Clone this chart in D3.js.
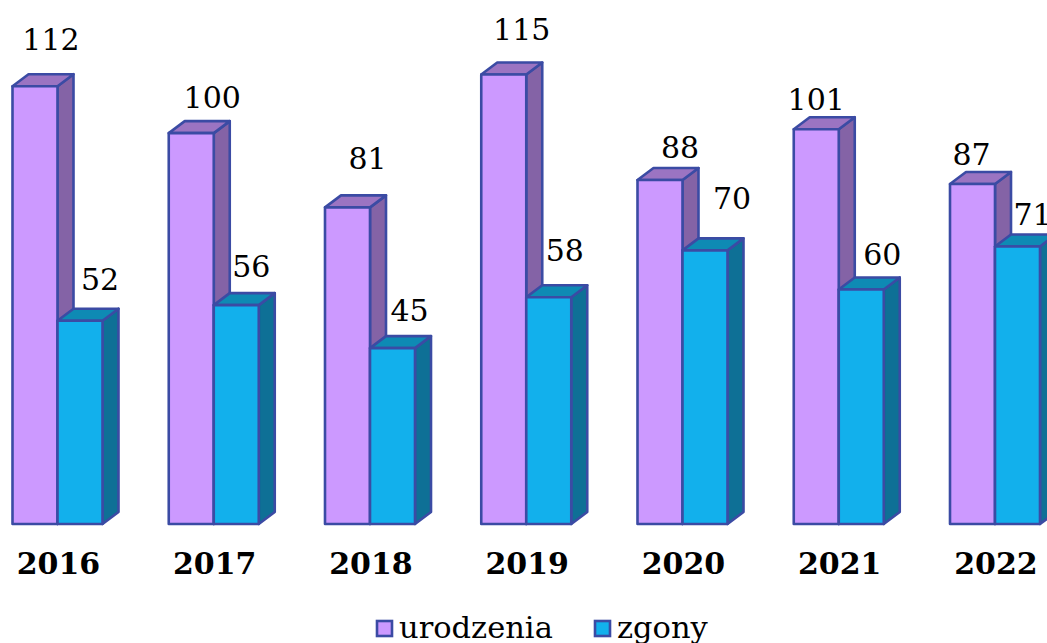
<!DOCTYPE html>
<html>
<head>
<meta charset="utf-8">
<script src="https://cdn.jsdelivr.net/npm/d3@7"></script>
<style>
  html, body { margin: 0; padding: 0; background: #fff; overflow: hidden; }
  text { font-family: "DejaVu Serif", serif; fill: #000; }
</style>
</head>
<body>
<div id="chart"></div>
<script>
// data
var years = ["2016", "2017", "2018", "2019", "2020", "2021", "2022"];
var seriesNames = ["urodzenia", "zgony"];
var urodzenia = [112, 100, 81, 115, 88, 101, 87];
var zgony = [52, 56, 45, 58, 70, 60, 71];

// labels were placed by hand in the original, so each has its own nudge from the bar top
var urodzeniaNudge = [[16, -36], [21, -25], [20, -38], [18, -35], [20, -22], [0, -19], [-1, -19]];
var zgonyNudge = [[20, -31], [15, -28], [17, -27], [16, -36], [27, -41], [21, -24], [15, -21]];

var svgWidth = 1047;
var svgHeight = 643;
var depthX = 16;
var depthY = 12;

var colors = {
  urodzenia: { front: "#cc99ff", top: "#9b74c2", side: "#8463a6" },
  zgony: { front: "#12b0ec", top: "#0e8ab4", side: "#0e7096" }
};
var strokeColor = "#3b4ba4";

var svg = d3.select("#chart")
  .append("svg")
  .attr("width", svgWidth)
  .attr("height", svgHeight)
  .style("display", "block");

// scales
var xScale = d3.scaleBand()
  .domain(years)
  .range([12.5, 1040])
  .paddingInner(0.424)
  .paddingOuter(0);

var seriesScale = d3.scaleBand()
  .domain(seriesNames)
  .range([0, xScale.bandwidth()]);

var yScale = d3.scaleLinear()
  .domain([0, 115])
  .range([524, 74.5]);

var barWidth = seriesScale.bandwidth();

function facePoints(pts) {
  return pts.map(p => p.join(",")).join(" ");
}

// one 3d bar: side and top faces first, then the front
function drawBar(group, name, year, value) {
  var x0 = xScale(year) + seriesScale(name);
  var x1 = x0 + barWidth;
  var y0 = yScale(value);
  var y1 = yScale(0);
  var c = colors[name];

  group.append("polygon")
    .attr("points", facePoints([[x1, y0], [x1 + depthX, y0 - depthY], [x1 + depthX, y1 - depthY], [x1, y1]]))
    .attr("fill", c.side);
  group.append("polygon")
    .attr("points", facePoints([[x0, y0], [x0 + depthX, y0 - depthY], [x1 + depthX, y0 - depthY], [x1, y0]]))
    .attr("fill", c.top);
  group.append("rect")
    .attr("x", x0)
    .attr("y", y0)
    .attr("width", barWidth)
    .attr("height", y1 - y0)
    .attr("fill", c.front);
}

var barsGroup = svg.append("g")
  .attr("stroke", strokeColor)
  .attr("stroke-width", 2.6)
  .attr("stroke-linejoin", "round");

years.forEach(function(year, i) {
  drawBar(barsGroup, "urodzenia", year, urodzenia[i]);
  drawBar(barsGroup, "zgony", year, zgony[i]);
});

// value labels
var labelsGroup = svg.append("g")
  .attr("font-size", "30px")
  .attr("text-anchor", "middle");

years.forEach(function(year, i) {
  labelsGroup.append("text")
    .attr("x", xScale(year) + seriesScale("urodzenia") + barWidth / 2 + urodzeniaNudge[i][0])
    .attr("y", yScale(urodzenia[i]) + urodzeniaNudge[i][1])
    .text(urodzenia[i]);
  labelsGroup.append("text")
    .attr("x", xScale(year) + seriesScale("zgony") + barWidth / 2 + zgonyNudge[i][0])
    .attr("y", yScale(zgony[i]) + zgonyNudge[i][1])
    .text(zgony[i]);
});

// x axis, only the year labels are visible
var bottomAxis = d3.axisBottom(xScale).tickSize(0).tickPadding(0);
var axisGroup = svg.append("g")
  .attr("transform", "translate(1, 574)")
  .call(bottomAxis);
axisGroup.select(".domain").remove();
axisGroup.selectAll("text")
  .attr("y", 0)
  .attr("dy", 0)
  .attr("font-size", "30px")
  .attr("font-weight", "700")
  .attr("font-family", "DejaVu Serif");

// legend
var legendX = d3.scaleOrdinal().domain(seriesNames).range([377, 595]);
var legend = svg.append("g").selectAll("g")
  .data(seriesNames)
  .enter()
  .append("g")
  .attr("transform", d => `translate(${legendX(d)}, 621)`);

legend.append("rect")
  .attr("width", 15)
  .attr("height", 15)
  .attr("fill", d => colors[d].front)
  .attr("stroke", strokeColor)
  .attr("stroke-width", 2.6);

legend.append("text")
  .attr("x", 22)
  .attr("y", 17)
  .attr("font-size", "30.5px")
  .text(d => d);
</script>
</body>
</html>
